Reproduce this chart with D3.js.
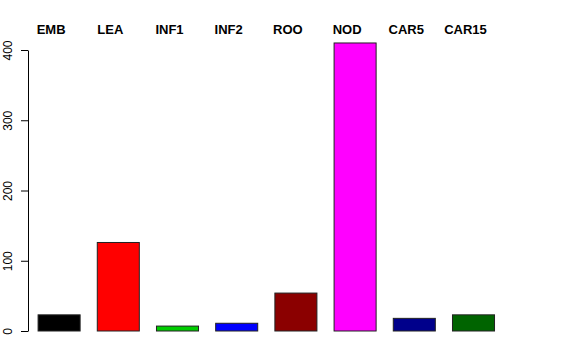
<!DOCTYPE html>
<html>
<head>
<meta charset="utf-8">
<script src="https://cdn.jsdelivr.net/npm/d3@7"></script>
<style>
  body { margin: 0; background: #fff; }
  text { font-family: "Liberation Sans", Arial, sans-serif; }
</style>
</head>
<body>
<div id="chart"></div>
<script>
  var width = 576;
  var height = 360;

  // data
  var categories = ["EMB", "LEA", "INF1", "INF2", "ROO", "NOD", "CAR5", "CAR15"];
  var counts = [23, 126, 7, 11, 54, 410, 18, 23];
  var barColors = ["#000000", "#FF0000", "#00CD00", "#0000FF", "#8B0000", "#FF00FF", "#00008B", "#006400"];
  var yTicks = [0, 100, 200, 300, 400];

  var data = categories.map(function(c, i) {
    return { cat: c, n: counts[i], col: barColors[i] };
  });

  var svg = d3.select("#chart")
    .append("svg")
    .attr("width", width)
    .attr("height", height);

  var xScale = d3.scaleBand()
    .domain(categories)
    .range([29.5, 503.1])
    .paddingInner(0.29)
    .paddingOuter(0.145);

  var yScale = d3.scaleLinear()
    .domain([0, 400])
    .range([331, 50]);

  // y axis, R style: rotated labels
  var axisy = d3.axisLeft(yScale)
    .tickValues(yTicks)
    .tickSizeInner(7)
    .tickSizeOuter(0);

  var gy = svg.append("g")
    .attr("transform", "translate(28,0)")
    .call(axisy);
  gy.select(".domain").attr("stroke", "#000");
  gy.selectAll(".tick line").attr("stroke", "#000");
  gy.selectAll(".tick text")
    .attr("font-size", "12px")
    .attr("fill", "#000")
    .attr("text-anchor", "middle")
    .attr("x", null)
    .attr("dy", null)
    .attr("transform", "translate(-16,0) rotate(-90)");

  // bars
  svg.append("g").selectAll("rect")
    .data(data)
    .enter()
    .append("rect")
    .attr("x", function(d) { return xScale(d.cat); })
    .attr("y", function(d) { return yScale(d.n); })
    .attr("width", xScale.bandwidth())
    .attr("height", function(d) { return yScale(0) - yScale(d.n); })
    .attr("fill", function(d) { return d.col; })
    .attr("stroke", "#222")
    .attr("stroke-width", 1);

  // category labels along the top
  svg.append("g").selectAll("text")
    .data(data)
    .enter()
    .append("text")
    .attr("x", function(d) { return xScale(d.cat) + xScale.bandwidth() / 2 - 8; })
    .attr("y", 34)
    .attr("text-anchor", "middle")
    .attr("font-size", "13px")
    .attr("font-weight", "bold")
    .text(function(d) { return d.cat; });
</script>
</body>
</html>
